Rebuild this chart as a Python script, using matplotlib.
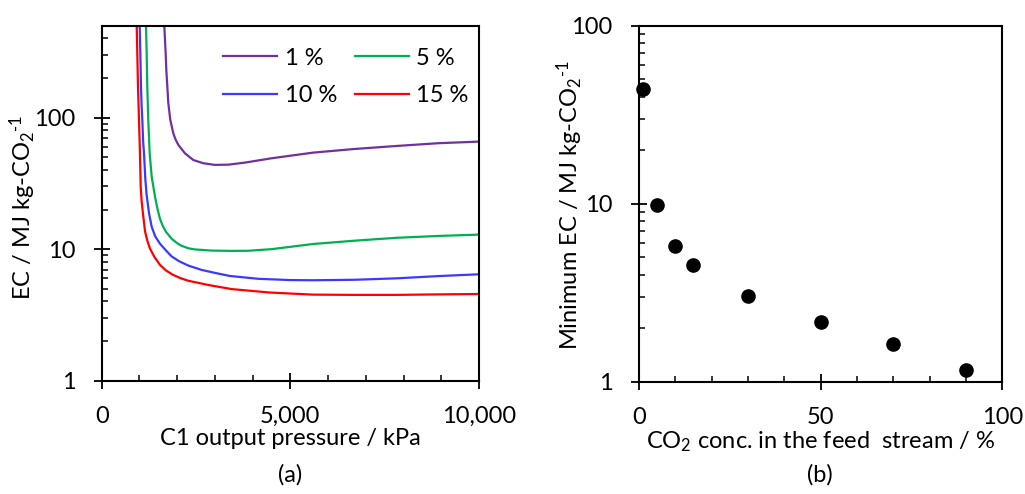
import matplotlib
matplotlib.use('Agg')
import matplotlib.pyplot as plt
from matplotlib.ticker import FixedLocator, MultipleLocator, FuncFormatter, LogLocator, NullFormatter

plt.rcParams['font.family'] = ['Lato', 'DejaVu Sans']
plt.rcParams['mathtext.fontset'] = 'custom'
plt.rcParams['mathtext.rm'] = 'Lato'
plt.rcParams['mathtext.it'] = 'Lato:italic'
plt.rcParams['mathtext.bf'] = 'Lato:bold'

FS = 17

# (a) EC vs C1 output pressure
p_1 = [1660, 1678, 1696, 1713, 1740, 1766, 1819, 1898, 1960, 2032, 2208, 2429, 2694,
       3003, 3357, 3798, 4506, 5609, 6714, 7819, 8922, 10000]
ec_1 = [500, 390, 309, 231, 172, 129, 96, 76, 68, 62, 53.5, 47.6, 45,
        43.7, 43.9, 45.5, 49.1, 54.2, 57.8, 60.9, 63.9, 65.7]

p_5 = [1174, 1193, 1209, 1235, 1272, 1325, 1368, 1413, 1474, 1545, 1620, 1700, 1855,
       2000, 2120, 2300, 2473, 2915, 3445, 3886, 4506, 5609, 6714, 7819, 8922, 10000]
ec_5 = [500, 309, 172, 96, 53.5, 35.6, 30, 25.1, 20.5, 17.0, 15.0, 13.6, 12.0,
        11.1, 10.6, 10.15, 9.95, 9.75, 9.7, 9.72, 10.0, 10.95, 11.6, 12.2, 12.6, 12.9]

p_10 = [1007, 1024, 1042, 1060, 1077, 1100, 1122, 1157, 1190, 1254, 1325, 1420, 1545,
        1700, 1855, 2050, 2297, 2650, 3000, 3400, 4151, 5000, 5609, 6714, 7819, 8922, 10000]
ec_10 = [500, 309, 172, 120, 96, 65, 53.5, 34, 26, 18.8, 14.8, 12.5, 11.0,
         9.8, 8.8, 8.1, 7.5, 6.95, 6.6, 6.25, 5.95, 5.82, 5.8, 5.85, 6.0, 6.24, 6.44]

p_15 = [928, 944, 962, 989, 1010, 1034, 1060, 1100, 1150, 1210, 1280, 1400, 1545,
        1700, 1880, 2100, 2297, 2826, 3445, 4450, 5609, 6714, 7819, 8922, 10000]
ec_15 = [500, 309, 172, 96, 60, 30, 23, 18, 13.6, 11.6, 10.1, 8.7, 7.6,
         6.9, 6.4, 6.0, 5.75, 5.34, 4.97, 4.68, 4.51, 4.49, 4.49, 4.53, 4.56]

# (b) minimum EC vs CO2 concentration
conc = [1, 5, 10, 15, 30, 50, 70, 90]
min_ec = [43.9, 9.8, 5.8, 4.5, 3.04, 2.17, 1.63, 1.17]

fig = plt.figure(figsize=(10.25, 4.94), dpi=100)
ax1 = fig.add_axes([0.0992, 0.2294, 0.3681, 0.7186])
ax2 = fig.add_axes([0.6234, 0.2273, 0.3545, 0.7206])

lw = 1.6
ax1.plot(p_1, ec_1, color='#7030A0', lw=lw, label='1 %')
ax1.plot(p_10, ec_10, color='#3A3AFF', lw=lw, label='10 %')
ax1.plot(p_5, ec_5, color='#00B050', lw=lw, label='5 %')
ax1.plot(p_15, ec_15, color='#FF0000', lw=lw, label='15 %')
ax1.set_yscale('log')
ax1.set_xlim(0, 10000)
ax1.set_ylim(1, 500)
ax1.xaxis.set_major_locator(FixedLocator([0, 5000, 10000]))
ax1.xaxis.set_minor_locator(MultipleLocator(1000))
ax1.xaxis.set_major_formatter(FuncFormatter(lambda v, pos: f'{v:,.0f}'))
ax1.set_xlabel('C1 output pressure / kPa', fontsize=FS, labelpad=1)
ax1.legend(loc='upper right', bbox_to_anchor=(0.997, 0.965), ncol=2,
           frameon=False, fontsize=FS, handlelength=2.3, handletextpad=0.3,
           columnspacing=0.75, labelspacing=0.7, borderaxespad=0)

ax2.plot(conc, min_ec, 'o', color='black', markersize=9.5, clip_on=False)
ax2.set_yscale('log')
ax2.set_xlim(0, 100)
ax2.set_ylim(1, 100)
ax2.xaxis.set_major_locator(FixedLocator([0, 50, 100]))
ax2.xaxis.set_minor_locator(MultipleLocator(10))
ax2.set_xlabel('CO$_2$ conc. in the feed  stream / %', fontsize=FS, labelpad=1)

for ax in (ax1, ax2):
    ax.yaxis.set_major_locator(LogLocator(base=10, numticks=10))
    ax.yaxis.set_minor_locator(LogLocator(base=10, subs=range(2, 10), numticks=10))
    ax.yaxis.set_minor_formatter(NullFormatter())
    ax.yaxis.set_major_formatter(FuncFormatter(lambda v, pos: f'{v:g}'))
    ax.tick_params(which='major', direction='inout', length=12, width=1.3,
                   labelsize=FS, pad=12)
    ax.tick_params(which='minor', direction='in', length=4, width=1.1)
    ax.tick_params(axis='y', which='major', pad=13)
    for s in ax.spines.values():
        s.set_linewidth(1.5)

fig.text(0.0225, 0.58, r'EC / MJ kg-CO$_2$$^{\text{-1}}$', rotation=90,
         ha='center', va='center', fontsize=FS)
fig.text(0.556, 0.585, r'Minimum EC / MJ kg-CO$_2$$^{\text{-1}}$', rotation=90,
         ha='center', va='center', fontsize=FS)
fig.text(0.2835, 0.038, '(a)', ha='center', va='center', fontsize=FS)
fig.text(0.800, 0.038, '(b)', ha='center', va='center', fontsize=FS)

fig.savefig('out.png', dpi=100)
